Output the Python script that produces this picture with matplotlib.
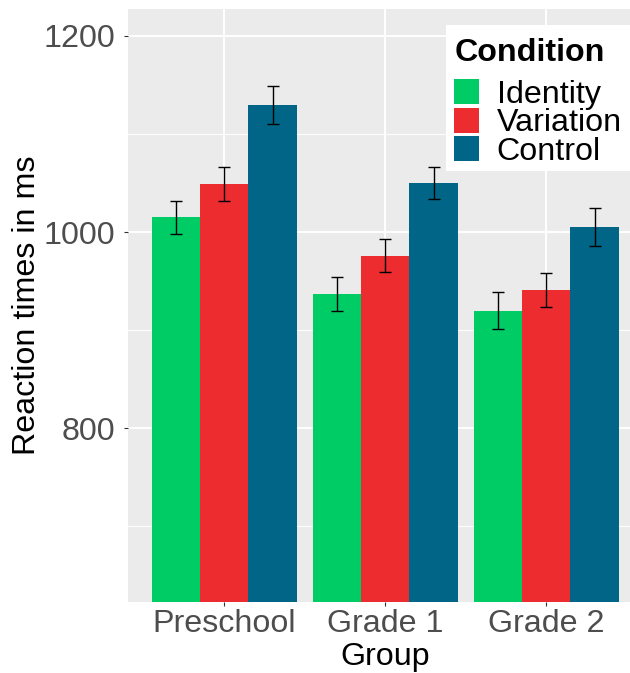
import matplotlib
matplotlib.use("Agg")
import matplotlib.pyplot as plt
from matplotlib.patches import Rectangle
import numpy as np

plt.rcParams['font.family'] = ['Liberation Sans', 'DejaVu Sans']

groups = ["Preschool", "Grade 1", "Grade 2"]
conditions = ["Identity", "Variation", "Control"]
identity = [1015, 937, 920]
variation = [1049, 976, 941]
control = [1130, 1050, 1005]
identity_se = [17, 17, 19]
variation_se = [17, 16.5, 17.5]
control_se = [19.5, 16.5, 19.5]

means = [identity, variation, control]
errors = [identity_se, variation_se, control_se]
colors = ["#00CC66", "#EC2C2E", "#006587"]

fs = 23.2
W, H = 630, 673
fig = plt.figure(figsize=(W / 100, H / 100), dpi=100)
ax = fig.add_axes([0.2027, 0.1051, 0.7973, 0.8815])
ax.set_facecolor("#EBEBEB")

x = np.arange(len(groups))
w = 0.3
for i, cond in enumerate(conditions):
    pos = x + (i - 1) * w
    ax.bar(pos, means[i], width=w, color=colors[i], label=cond, zorder=2)
    ax.errorbar(pos, means[i], yerr=errors[i], fmt="none", ecolor="black",
                elinewidth=1.0, capsize=4, capthick=1.0, zorder=3)

ax.set_xlim(-0.6, 2.52)
ax.set_ylim(622.5, 1227.5)
ax.set_xticks(x)
ax.set_xticklabels(groups)
ax.set_yticks([800, 1000, 1200])
ax.set_yticks([700, 900, 1100], minor=True)

ax.grid(True, which="major", color="white", linewidth=1.4, zorder=0)
ax.grid(True, which="minor", axis="y", color="white", linewidth=0.7, zorder=0)
ax.set_axisbelow(True)
for s in ax.spines.values():
    s.set_visible(False)

ax.tick_params(axis="both", which="major", labelsize=fs, labelcolor="#4D4D4D",
               color="#333333", length=3, width=0.8)
ax.tick_params(axis="y", which="minor", length=0)
ax.tick_params(axis="y", pad=6)
ax.tick_params(axis="x", pad=2)

ax.set_ylabel("Reaction times in ms", fontsize=fs, color="black", labelpad=1)
ax.set_xlabel("Group", fontsize=fs, color="black")
ax.xaxis.label.set_va("baseline")
ax.xaxis.set_label_coords(0.512, -(665 - 602.3) / 593)

# legend: white box, bold title, then the three keys
fig.add_artist(Rectangle((445.5 / W, 1 - 170.5 / H), (W - 445.5) / W, 145.5 / H,
                         transform=fig.transFigure, facecolor="white",
                         edgecolor="none", zorder=1))
fig.text(454.5 / W, 1 - 60.7 / H, "Condition", fontsize=fs, fontweight="bold",
         ha="left", va="baseline", zorder=6)
handles, labels = ax.get_legend_handles_labels()
fig.legend(handles, labels, loc="center left",
           bbox_to_anchor=(454.3 / W, 1 - 123 / H), borderaxespad=0,
           borderpad=0, frameon=False, fontsize=fs,
           handlelength=0.77, handleheight=0.82, handletextpad=0.55,
           labelspacing=-0.06)

fig.savefig("out.png", dpi=100)
